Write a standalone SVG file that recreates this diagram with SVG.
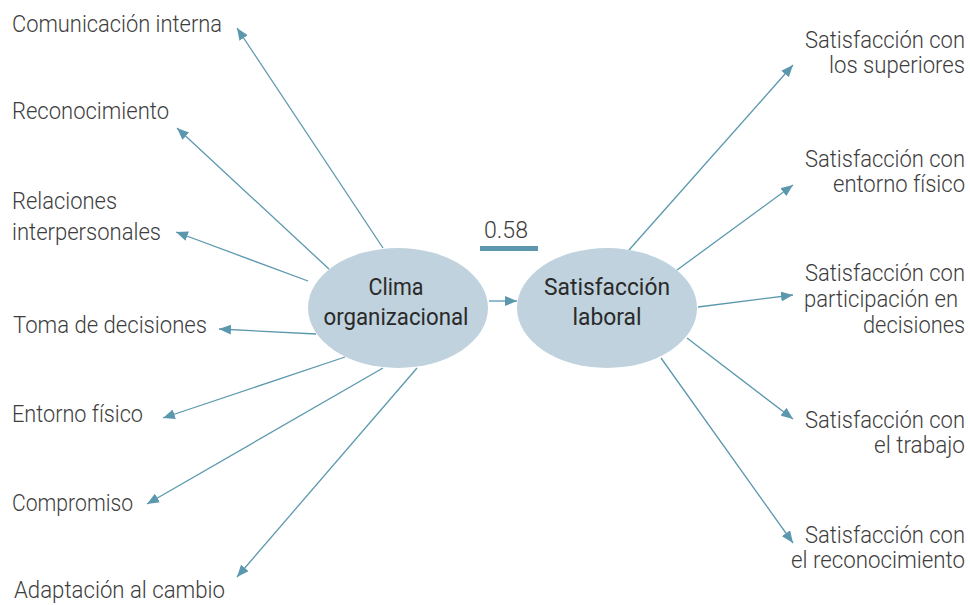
<svg xmlns="http://www.w3.org/2000/svg" width="970" height="605" viewBox="0 0 970 605">
<defs>
<marker id="ah" viewBox="0 0 12 10" refX="12" refY="5" markerWidth="12" markerHeight="10" orient="auto" markerUnits="userSpaceOnUse">
<path d="M0,0 L12,5 L0,10 z" fill="#5b98ae"/>
</marker>
<style>
.c line{stroke:#5b98ae;stroke-width:1.3;fill:none;marker-end:url(#ah)}
.lbl{font-family:Roboto,"Liberation Sans",sans-serif;font-size:24px;font-weight:300;fill:#3d3d3d}
.r{text-anchor:end}
.nd{font-family:Roboto,"Liberation Sans",sans-serif;font-size:24px;font-weight:400;fill:#2a2a2a;text-anchor:middle}
.el{fill:#bfd2dd}
</style>
</defs>
<rect width="970" height="605" fill="#ffffff"/>
<g id="connectors" class="c">
<line x1="383" y1="248" x2="237" y2="28"/>
<line x1="329" y1="269" x2="177" y2="128"/>
<line x1="308" y1="281" x2="176" y2="232"/>
<line x1="316" y1="334" x2="219" y2="329"/>
<line x1="345" y1="357" x2="163" y2="418"/>
<line x1="383" y1="368" x2="147" y2="504"/>
<line x1="417" y1="368" x2="237" y2="577"/>
<line x1="489" y1="301" x2="517" y2="301"/>
<line x1="629" y1="250" x2="793" y2="65"/>
<line x1="677" y1="270" x2="793" y2="185"/>
<line x1="698" y1="307" x2="793" y2="295"/>
<line x1="687" y1="338" x2="793" y2="419"/>
<line x1="661" y1="358" x2="793" y2="543"/>
</g>
<g id="clima">
<ellipse class="el" cx="398" cy="308" rx="90" ry="60"/>
<text class="nd" x="396" y="295" textLength="55" lengthAdjust="spacingAndGlyphs">Clima</text>
<text class="nd" x="396" y="325" textLength="145" lengthAdjust="spacingAndGlyphs">organizacional</text>
</g>
<g id="satisfaccion">
<ellipse class="el" cx="607" cy="308" rx="90" ry="60"/>
<text class="nd" x="607" y="295" textLength="126" lengthAdjust="spacingAndGlyphs">Satisfacción</text>
<text class="nd" x="607" y="325" textLength="69" lengthAdjust="spacingAndGlyphs">laboral</text>
</g>
<g id="coef">
<text class="lbl" x="484" y="238" textLength="44" lengthAdjust="spacingAndGlyphs">0.58</text>
<rect x="480" y="246" width="58" height="5" fill="#5b98ae"/>
</g>
<g id="comunicacion"><text class="lbl" x="12" y="32" textLength="210" lengthAdjust="spacingAndGlyphs">Comunicación interna</text></g>
<g id="reconocimiento"><text class="lbl" x="12" y="119" textLength="157" lengthAdjust="spacingAndGlyphs">Reconocimiento</text></g>
<g id="relaciones">
<text class="lbl" x="12" y="209" textLength="105" lengthAdjust="spacingAndGlyphs">Relaciones</text>
<text class="lbl" x="12" y="240" textLength="149" lengthAdjust="spacingAndGlyphs">interpersonales</text>
</g>
<g id="toma"><text class="lbl" x="13" y="333" textLength="194" lengthAdjust="spacingAndGlyphs">Toma de decisiones</text></g>
<g id="entorno"><text class="lbl" x="12" y="422" textLength="131" lengthAdjust="spacingAndGlyphs">Entorno físico</text></g>
<g id="compromiso"><text class="lbl" x="12" y="511" textLength="121" lengthAdjust="spacingAndGlyphs">Compromiso</text></g>
<g id="adaptacion"><text class="lbl" x="14" y="598" textLength="211" lengthAdjust="spacingAndGlyphs">Adaptación al cambio</text></g>
<g id="s-superiores">
<text class="lbl r" x="965" y="48" textLength="160" lengthAdjust="spacingAndGlyphs">Satisfacción con</text>
<text class="lbl r" x="965" y="73" textLength="136" lengthAdjust="spacingAndGlyphs">los superiores</text>
</g>
<g id="s-entorno">
<text class="lbl r" x="965" y="167" textLength="160" lengthAdjust="spacingAndGlyphs">Satisfacción con</text>
<text class="lbl r" x="965" y="192" textLength="132" lengthAdjust="spacingAndGlyphs">entorno físico</text>
</g>
<g id="s-participacion">
<text class="lbl r" x="965" y="281" textLength="160" lengthAdjust="spacingAndGlyphs">Satisfacción con</text>
<text class="lbl r" x="958" y="307" textLength="154" lengthAdjust="spacingAndGlyphs">participación en</text>
<text class="lbl r" x="965" y="333" textLength="102" lengthAdjust="spacingAndGlyphs">decisiones</text>
</g>
<g id="s-trabajo">
<text class="lbl r" x="965" y="428" textLength="160" lengthAdjust="spacingAndGlyphs">Satisfacción con</text>
<text class="lbl r" x="965" y="453" textLength="91" lengthAdjust="spacingAndGlyphs">el trabajo</text>
</g>
<g id="s-reconocimiento">
<text class="lbl r" x="965" y="543" textLength="160" lengthAdjust="spacingAndGlyphs">Satisfacción con</text>
<text class="lbl r" x="965" y="568" textLength="174" lengthAdjust="spacingAndGlyphs">el reconocimiento</text>
</g>
</svg>
